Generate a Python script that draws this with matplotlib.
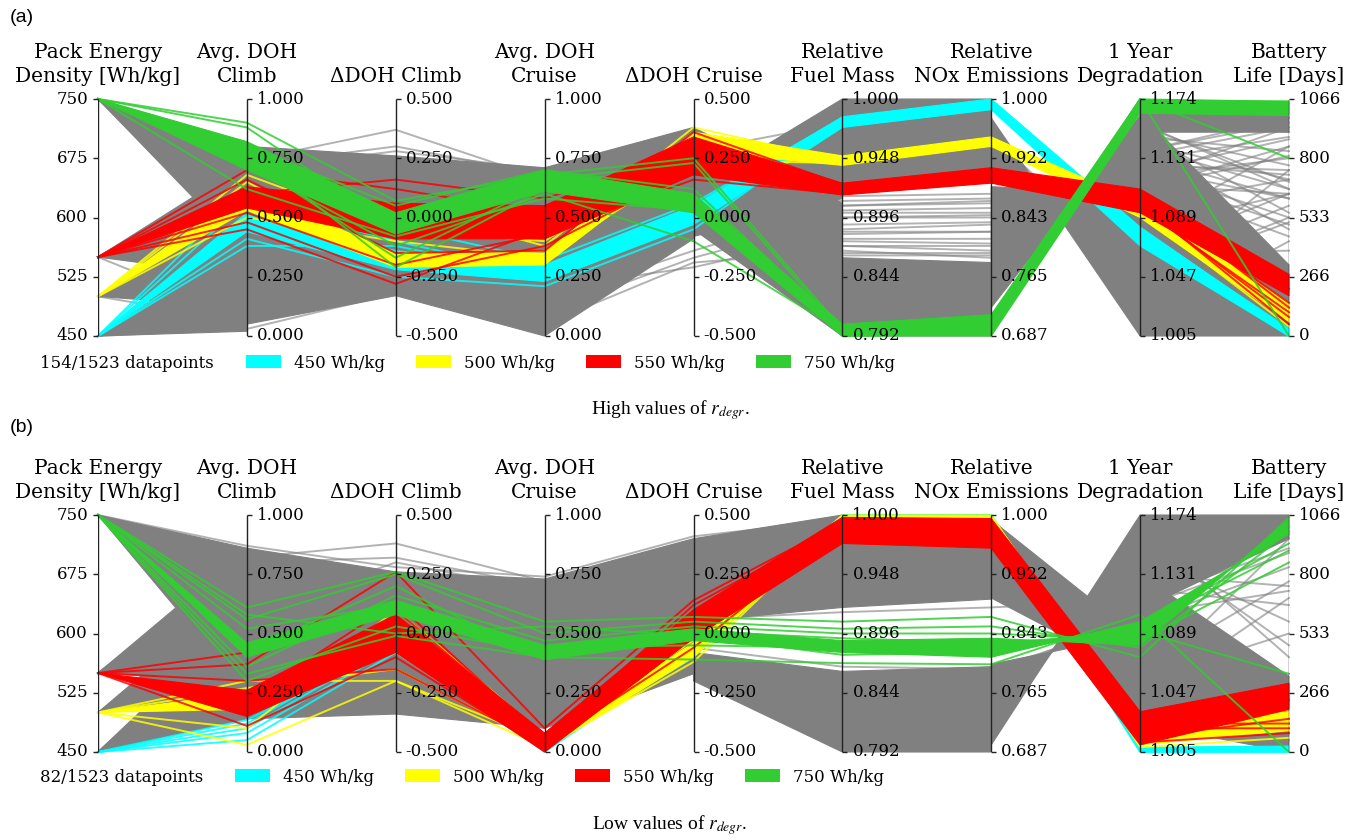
import numpy as np
import matplotlib
matplotlib.use('Agg')
import matplotlib.pyplot as plt
from matplotlib.patches import Patch

plt.rcParams['font.family'] = 'DejaVu Serif'
plt.rcParams['mathtext.fontset'] = 'stix'

N = np.nan
W, H = 1355, 840

# axes of the parallel plot
axis_names = ['Pack Energy\nDensity [Wh/kg]', 'Avg. DOH\nClimb', 'ΔDOH Climb',
              'Avg. DOH\nCruise', 'ΔDOH Cruise', 'Relative\nFuel Mass',
              'Relative\nNOx Emissions', '1 Year\nDegradation', 'Battery\nLife [Days]']
axis_ticks = [['450', '525', '600', '675', '750'],
              ['0.000', '0.250', '0.500', '0.750', '1.000'],
              ['-0.500', '-0.250', '0.000', '0.250', '0.500'],
              ['0.000', '0.250', '0.500', '0.750', '1.000'],
              ['-0.500', '-0.250', '0.000', '0.250', '0.500'],
              ['0.792', '0.844', '0.896', '0.948', '1.000'],
              ['0.687', '0.765', '0.843', '0.922', '1.000'],
              ['1.005', '1.047', '1.089', '1.131', '1.174'],
              ['0', '266', '533', '800', '1066']]
legend_labels = ['450 Wh/kg', '500 Wh/kg', '550 Wh/kg', '750 Wh/kg']
colors = ['#00ffff', '#ffff00', '#ff0000', '#32cd32']
grey = '#808080'
counts = ['154/1523 datapoints', '82/1523 datapoints']
captions = ['High values of $r_{degr}$.', 'Low values of $r_{degr}$.']

# all values below are scaled positions (0 = bottom tick, 1 = top tick) on each axis
# ---------------- panel (a): high r_degr ----------------
grey_bands_a = [
    ([1.000, 0.80, N, N, N, N, N, N, N], [1.000, 0.35, N, N, N, N, N, N, N]),
    ([0.333, 0.73, N, N, N, N, N, N, N], [0.333, 0.25, N, N, N, N, N, N, N]),
    ([0.167, 0.55, N, N, N, N, N, N, N], [0.167, 0.12, N, N, N, N, N, N, N]),
    ([0.000, 0.42, N, N, N, N, N, N, N], [0.000, 0.02, N, N, N, N, N, N, N]),
    ([N, 0.80, 0.76, 0.71, 0.88, N, N, N, N], [N, 0.05, 0.17, 0.00, 0.41, N, N, N, N]),
    ([N, N, N, N, 0.62, 1.00, N, N, N], [N, N, N, N, 0.42, 0.58, N, N, N]),
    ([N, N, N, N, 0.88, 0.56, N, N, N], [N, N, N, N, 0.45, 0.00, N, N, N]),
    ([N, N, N, N, N, 1.00, 1.00, N, N], [N, N, N, N, N, 0.60, 0.65, N, N]),
    ([N, N, N, N, N, 0.33, 0.31, N, N], [N, N, N, N, N, 0.00, 0.00, N, N]),
    ([N, N, N, N, N, N, 0.12, 0.93, N], [N, N, N, N, N, N, 0.63, 0.60, N]),
    ([N, N, N, N, N, N, 0.92, 0.00, N], [N, N, N, N, N, N, 0.65, 0.60, N]),
    ([N, N, N, N, N, N, N, 0.94, 0.30], [N, N, N, N, N, N, N, 0.00, 0.00]),
    ([N, N, N, N, N, N, N, 0.95, 0.93], [N, N, N, N, N, N, N, 0.86, 0.86]),
]
grey_lines_a = [
    [1.000, 0.74, 0.87, 0.66, 0.80, 0.45, 0.47, 0.71, 0.50],
    [0.333, 0.72, 0.80, 0.68, 0.84, 0.40, 0.39, 0.76, 0.88],
    [0.333, 0.70, 0.78, 0.70, 0.86, 0.52, 0.52, 0.67, 0.75],
    [0.000, 0.03, 0.18, 0.05, 0.31, 0.36, 0.33, 0.80, 0.62],
    [0.167, 0.06, 0.20, 0.10, 0.33, 0.50, 0.50, 0.69, 0.83],
    [0.000, 0.10, 0.22, 0.15, 0.36, 0.55, 0.56, 0.65, 0.42],
    [0.333, 0.08, 0.19, 0.20, 0.29, 0.43, 0.44, 0.73, 0.68],
    [1.000, 0.60, 0.45, 0.50, 0.70, 0.38, 0.36, 0.78, 0.92],
    [1.000, 0.65, 0.55, 0.45, 0.65, 0.47, 0.48, 0.71, 0.58],
    [0.333, 0.40, 0.35, 0.30, 0.60, 0.34, 0.34, 0.79, 0.45],
    [0.333, 0.30, 0.40, 0.40, 0.55, 0.57, 0.58, 0.62, 0.80],
    [0.167, 0.20, 0.30, 0.25, 0.50, 0.24, 0.22, 0.86, 0.72],
    [0.000, 0.15, 0.25, 0.35, 0.45, 0.20, 0.18, 0.89, 0.65],
    [1.000, 0.55, 0.50, 0.60, 0.75, 0.80, 0.80, 0.30, 0.55],
    [1.000, 0.45, 0.42, 0.55, 0.72, 0.85, 0.85, 0.25, 0.48],
    [1.000, 0.38, 0.60, 0.65, 0.78, 0.90, 0.90, 0.06, 0.40],
    [0.333, 0.50, 0.65, 0.50, 0.82, 0.75, 0.76, 0.35, 0.36],
    [1.000, 0.58, 0.70, 0.62, 0.85, 0.70, 0.72, 0.45, 0.60],
    [0.000, 0.20, 0.30, 0.35, 0.57, 0.15, 0.14, 0.92, 0.86],
    [0.333, 0.40, 0.45, 0.40, 0.59, 0.18, 0.17, 0.90, 0.62],
    [0.167, 0.30, 0.35, 0.25, 0.61, 0.21, 0.20, 0.88, 0.92],
    [1.000, 0.60, 0.60, 0.55, 0.63, 0.24, 0.23, 0.86, 0.52],
    [0.000, 0.10, 0.25, 0.20, 0.66, 0.27, 0.26, 0.84, 0.78],
    [0.333, 0.55, 0.50, 0.45, 0.68, 0.30, 0.29, 0.82, 0.66],
    [0.167, 0.45, 0.40, 0.35, 0.72, 0.35, 0.35, 0.78, 0.90],
    [1.000, 0.70, 0.65, 0.60, 0.74, 0.38, 0.38, 0.76, 0.58],
    [0.000, 0.25, 0.35, 0.30, 0.76, 0.41, 0.41, 0.74, 0.84],
    [0.333, 0.50, 0.55, 0.50, 0.79, 0.44, 0.44, 0.72, 0.70],
    [0.167, 0.35, 0.45, 0.40, 0.83, 0.50, 0.51, 0.68, 0.47],
    [1.000, 0.65, 0.70, 0.65, 0.86, 0.53, 0.54, 0.66, 0.88],
    [0.333, 0.60, 0.60, 0.55, 0.87, 0.55, 0.57, 0.64, 0.60],
    [0.000, 0.30, 0.40, 0.20, 0.43, 0.59, 0.60, 0.62, 0.76],
    [0.167, 0.40, 0.30, 0.25, 0.44, 0.63, 0.67, 0.55, 0.66],
    [0.333, 0.45, 0.55, 0.30, 0.48, 0.70, 0.72, 0.45, 0.80],
    [1.000, 0.75, 0.60, 0.65, 0.50, 0.74, 0.76, 0.35, 0.60],
    [0.000, 0.20, 0.30, 0.10, 0.52, 0.78, 0.81, 0.25, 0.50],
    [0.333, 0.55, 0.45, 0.40, 0.53, 0.80, 0.83, 0.20, 0.70],
]
cyan_band_a = ([0.0, 0.52, 0.36, 0.30, 0.55, 0.925, 1.00, 0.46, 0.025],
               [0.0, 0.44, 0.28, 0.23, 0.47, 0.880, 0.955, 0.38, 0.0])
cyan_lines_a = [
    [0.0, 0.62, 0.30, 0.28, 0.52, 0.91, 0.98, 0.44, 0.01],
    [0.0, 0.57, 0.40, 0.26, 0.50, 0.90, 0.97, 0.42, 0.02],
    [0.0, 0.38, 0.38, 0.25, 0.48, 0.89, 0.96, 0.40, 0.00],
    [0.0, 0.47, 0.46, 0.32, 0.56, 0.92, 0.99, 0.45, 0.03],
    [0.0, 0.41, 0.25, 0.21, 0.45, 0.90, 0.97, 0.39, 0.01],
]
yellow_band_a = ([0.167, 0.62, 0.35, 0.35, 0.86, 0.76, 0.84, 0.56, 0.14],
                 [0.167, 0.53, 0.29, 0.30, 0.78, 0.72, 0.80, 0.50, 0.06])
yellow_lines_a = [
    [0.167, 0.68, 0.45, 0.40, 0.82, 0.75, 0.83, 0.54, 0.10],
    [0.167, 0.50, 0.40, 0.33, 0.74, 0.73, 0.81, 0.52, 0.04],
    [0.167, 0.58, 0.55, 0.38, 0.88, 0.74, 0.82, 0.53, 0.18],
    [0.167, 0.65, 0.32, 0.36, 0.80, 0.75, 0.83, 0.55, 0.08],
]
red_band_a = ([0.333, 0.63, 0.56, 0.55, 0.84, 0.645, 0.71, 0.62, 0.26],
              [0.333, 0.54, 0.41, 0.41, 0.68, 0.595, 0.645, 0.52, 0.17])
red_lines_a = [
    [0.333, 0.70, 0.62, 0.52, 0.80, 0.63, 0.69, 0.60, 0.12],
    [0.333, 0.45, 0.22, 0.45, 0.75, 0.61, 0.66, 0.55, 0.08],
    [0.333, 0.48, 0.25, 0.38, 0.70, 0.62, 0.67, 0.56, 0.05],
    [0.333, 0.66, 0.35, 0.36, 0.86, 0.64, 0.70, 0.58, 0.14],
    [0.333, 0.60, 0.66, 0.58, 0.78, 0.60, 0.65, 0.53, 0.20],
    [0.333, 0.52, 0.30, 0.43, 0.66, 0.60, 0.66, 0.54, 0.10],
]
green_band_a = ([1.0, 0.82, 0.52, 0.70, 0.60, 0.05, 0.09, 1.00, 0.99],
                [1.0, 0.70, 0.43, 0.61, 0.52, 0.00, 0.00, 0.94, 0.93])
green_lines_a = [
    [1.0, 0.90, 0.57, 0.68, 0.75, 0.03, 0.05, 0.98, 0.96],
    [1.0, 0.88, 0.45, 0.66, 0.73, 0.02, 0.04, 0.99, 0.97],
    [1.0, 0.78, 0.29, 0.62, 0.55, 0.01, 0.02, 0.97, 0.95],
    [1.0, 0.74, 0.33, 0.64, 0.58, 0.02, 0.03, 0.98, 0.98],
    [1.0, 0.76, 0.50, 0.66, 0.56, 0.00, 0.01, 1.00, 0.75],
    [1.0, 0.72, 0.38, 0.60, 0.40, 0.02, 0.06, 1.00, 0.00],
    [1.0, 0.62, 0.42, 0.58, 0.53, 0.01, 0.02, 0.96, 0.94],
    [1.0, 0.80, 0.55, 0.70, 0.62, 0.03, 0.06, 0.99, 0.99],
]

# ---------------- panel (b): low r_degr ----------------
grey_bands_b = [
    ([1.000, 0.86, N, N, N, N, N, N, N], [1.000, 0.25, N, N, N, N, N, N, N]),
    ([0.333, 0.86, N, N, N, N, N, N, N], [0.333, 0.30, N, N, N, N, N, N, N]),
    ([0.167, 0.70, N, N, N, N, N, N, N], [0.167, 0.20, N, N, N, N, N, N, N]),
    ([0.000, 0.60, N, N, N, N, N, N, N], [0.000, 0.14, N, N, N, N, N, N, N]),
    ([N, 0.86, 0.76, 0.73, 0.90, N, N, N, N], [N, 0.14, 0.16, 0.10, 0.33, N, N, N, N]),
    ([N, N, N, N, 0.90, 1.00, N, N, N], [N, N, N, N, 0.55, 0.61, N, N, N]),
    ([N, N, N, N, 0.42, 0.34, N, N, N], [N, N, N, N, 0.30, 0.00, N, N, N]),
    ([N, N, N, N, N, 1.00, 1.000, N, N], [N, N, N, N, N, 0.61, 0.645, N, N]),
    ([N, N, N, N, N, 0.34, 0.36, N, N], [N, N, N, N, N, 0.00, 0.00, N, N]),
    ([N, N, N, N, N, N, 0.03, 1.00, N], [N, N, N, N, N, N, 0.37, 0.50, N]),
    ([N, N, N, N, N, N, 0.98, 0.48, N], [N, N, N, N, N, N, 0.65, 0.32, N]),
    ([N, N, N, N, N, N, 0.90, 0.15, N], [N, N, N, N, N, N, 0.66, 0.45, N]),
    ([N, N, N, N, N, N, N, 1.00, 1.00], [N, N, N, N, N, N, N, 0.60, 0.90]),
    ([N, N, N, N, N, N, N, 0.75, 0.32], [N, N, N, N, N, N, N, 0.12, 0.00]),
]
grey_lines_b = [
    [0.333, 0.82, 0.88, 0.72, 0.86, 0.95, 0.96, 0.20, 0.05],
    [0.333, 0.80, 0.82, 0.70, 0.88, 0.90, 0.92, 0.25, 0.10],
    [0.000, 0.58, 0.80, 0.68, 0.84, 0.85, 0.88, 0.30, 0.02],
    [1.000, 0.87, 0.78, 0.74, 0.91, 0.98, 0.98, 0.40, 0.15],
    [0.167, 0.60, 0.55, 0.58, 0.56, 0.59, 0.61, 0.64, 0.86],
    [0.333, 0.65, 0.60, 0.50, 0.44, 0.36, 0.35, 0.55, 0.78],
    [0.000, 0.55, 0.45, 0.40, 0.40, 0.30, 0.30, 0.61, 0.84],
    [1.000, 0.70, 0.50, 0.45, 0.38, 0.25, 0.24, 0.69, 0.62],
    [0.333, 0.75, 0.65, 0.60, 0.36, 0.20, 0.20, 0.75, 0.70],
    [1.000, 0.78, 0.70, 0.62, 0.34, 0.15, 0.14, 0.84, 0.55],
    [0.167, 0.50, 0.35, 0.30, 0.35, 0.10, 0.10, 0.90, 0.45],
    [0.000, 0.40, 0.30, 0.35, 0.33, 0.05, 0.06, 0.95, 0.40],
    [1.000, 0.45, 0.40, 0.55, 0.60, 0.70, 0.72, 0.30, 0.50],
    [0.333, 0.35, 0.25, 0.20, 0.70, 0.80, 0.82, 0.22, 0.65],
    [0.167, 0.30, 0.20, 0.25, 0.75, 0.75, 0.78, 0.28, 0.90],
    [1.000, 0.66, 0.72, 0.66, 0.80, 0.66, 0.70, 0.35, 0.72],
    [0.333, 0.62, 0.58, 0.52, 0.37, 0.28, 0.27, 0.65, 0.92],
    [1.000, 0.72, 0.62, 0.56, 0.41, 0.32, 0.33, 0.58, 0.68],
]
cyan_band_b = ([N, N, N, N, N, N, N, 0.02, 0.025], [N, N, N, N, N, N, N, 0.00, 0.00])
cyan_lines_b = [
    [0.0, 0.05, 0.42, 0.01, 0.41, 0.995, 0.995, 0.005, 0.010],
    [0.0, 0.08, 0.44, 0.02, 0.42, 1.000, 1.000, 0.010, 0.020],
    [0.0, 0.10, 0.46, 0.00, 0.43, 0.990, 0.990, 0.000, 0.000],
    [0.0, 0.12, 0.47, 0.03, 0.44, 1.000, 0.995, 0.010, 0.015],
    [0.0, 0.135, 0.45, 0.02, 0.40, 0.995, 1.000, 0.005, 0.005],
]
yellow_band_b = ([0.167, 0.25, 0.55, 0.06, 0.46, 1.00, 1.00, 0.09, 0.17],
                 [0.167, 0.18, 0.42, 0.01, 0.40, 0.98, 0.96, 0.03, 0.09])
yellow_lines_b = [
    [0.167, 0.03, 0.30, 0.02, 0.38, 0.990, 0.980, 0.02, 0.06],
    [0.167, 0.30, 0.30, 0.05, 0.45, 0.985, 0.970, 0.05, 0.12],
    [0.167, 0.10, 0.60, 0.07, 0.47, 0.995, 0.990, 0.08, 0.15],
    [0.167, 0.27, 0.35, 0.03, 0.42, 0.975, 0.965, 0.06, 0.18],
]
red_band_b = ([0.333, 0.26, 0.58, 0.08, 0.60, 0.99, 0.985, 0.17, 0.29],
              [0.333, 0.15, 0.42, 0.00, 0.48, 0.88, 0.860, 0.03, 0.18])
red_lines_b = [
    [0.333, 0.37, 0.76, 0.10, 0.64, 0.97, 0.95, 0.10, 0.10],
    [0.333, 0.42, 0.60, 0.06, 0.55, 0.92, 0.90, 0.06, 0.14],
    [0.333, 0.30, 0.35, 0.03, 0.44, 0.95, 0.93, 0.12, 0.12],
    [0.333, 0.11, 0.40, 0.01, 0.50, 0.90, 0.88, 0.04, 0.08],
    [0.333, 0.22, 0.63, 0.05, 0.62, 0.96, 0.94, 0.14, 0.22],
]
green_band_b = ([1.0, 0.46, 0.64, 0.45, 0.52, 0.47, 0.48, 0.45, 0.98],
                [1.0, 0.40, 0.58, 0.39, 0.47, 0.42, 0.40, 0.55, 0.92])
green_lines_b = [
    [1.0, 0.61, 0.76, 0.55, 0.57, 0.55, 0.57, 0.40, 0.99],
    [1.0, 0.56, 0.75, 0.50, 0.55, 0.52, 0.53, 0.44, 0.93],
    [1.0, 0.30, 0.53, 0.42, 0.50, 0.45, 0.45, 0.51, 0.33],
    [1.0, 0.33, 0.49, 0.40, 0.39, 0.375, 0.37, 0.58, 0.00],
    [1.0, 0.52, 0.62, 0.44, 0.45, 0.44, 0.43, 0.53, 0.85],
    [1.0, 0.36, 0.66, 0.47, 0.53, 0.50, 0.50, 0.47, 0.80],
    [1.0, 0.58, 0.50, 0.53, 0.49, 0.41, 0.42, 0.535, 0.88],
    [1.0, 0.43, 0.70, 0.39, 0.51, 0.48, 0.46, 0.50, 0.95],
]


def draw_band(ax, band, color, z):
    a, b = np.array(band[0]), np.array(band[1])
    for i in range(len(a) - 1):
        if np.isnan([a[i], a[i + 1], b[i], b[i + 1]]).any():
            continue
        ax.fill([i, i + 1, i + 1, i], [a[i], a[i + 1], b[i + 1], b[i]],
                color=color, ec=color, lw=0.8, zorder=z, clip_on=False)


def draw_lines(ax, lines, color, z, alpha):
    for ln in lines:
        ax.plot(range(len(ln)), ln, color=color, lw=1.4, alpha=alpha,
                zorder=z, clip_on=False)


fig = plt.figure(figsize=(W / 100, H / 100), dpi=100)

panels = [
    dict(bottom=336, letter='(a)', letter_y=17, count_y=363, leg_x=246, cap_y=410,
         grey_bands=grey_bands_a, grey_lines=grey_lines_a,
         bands=[cyan_band_a, yellow_band_a, red_band_a, green_band_a],
         lines=[cyan_lines_a, yellow_lines_a, red_lines_a, green_lines_a]),
    dict(bottom=752, letter='(b)', letter_y=428, count_y=777, leg_x=235, cap_y=825,
         grey_bands=grey_bands_b, grey_lines=grey_lines_b,
         bands=[cyan_band_b, yellow_band_b, red_band_b, green_band_b],
         lines=[cyan_lines_b, yellow_lines_b, red_lines_b, green_lines_b]),
]

for k, p in enumerate(panels):
    ax = fig.add_axes([98 / W, (H - p['bottom']) / H, 1191 / W, 237 / H])
    ax.set_xlim(0, 8)
    ax.set_ylim(0, 1)
    ax.axis('off')

    for band in p['grey_bands']:
        draw_band(ax, band, grey, 1)
    draw_lines(ax, p['grey_lines'], grey, 1.5, 0.6)
    for j in range(4):
        draw_band(ax, p['bands'][j], colors[j], 2 + j)
        draw_lines(ax, p['lines'][j], colors[j], 2 + j, 0.85)

    # vertical axes, ticks and labels
    ax.vlines(range(9), 0, 1, color='#222222', lw=1, zorder=10)
    fr = np.linspace(0, 1, 5)
    for i in range(9):
        left = i == 0
        ax.plot([i] * 5, fr, ls='', marker=0 if left else 1, ms=3.5, mew=1,
                color='#222222', zorder=10, clip_on=False)
        for f, t in zip(fr, axis_ticks[i]):
            ax.annotate(t, xy=(i, f), xytext=(-10 if left else 10, 0),
                        textcoords='offset pixels', ha='right' if left else 'left',
                        va='center', fontsize=12, zorder=12)
        ax.annotate(axis_names[i], xy=(i, 1), xytext=(0, 13), textcoords='offset pixels',
                    ha='center', va='bottom', fontsize=14.5, linespacing=1.32)

    fig.text(10 / W, 1 - p['letter_y'] / H, p['letter'], family='Liberation Sans',
             fontsize=14, va='center')
    fig.text(40 / W, 1 - p['count_y'] / H, counts[k], fontsize=12, va='center')
    handles = [Patch(facecolor=c, edgecolor='none') for c in colors]
    ax.legend(handles, legend_labels, loc='center left',
              bbox_to_anchor=(p['leg_x'] / W, 1 - p['count_y'] / H),
              bbox_transform=fig.transFigure, ncol=4, frameon=False, fontsize=12,
              handlelength=2.07, handleheight=0.85, handletextpad=0.8,
              columnspacing=1.88, borderpad=0, borderaxespad=0)
    fig.text(670 / W, 1 - p['cap_y'] / H, captions[k], family='Liberation Serif',
             fontsize=14, ha='center', va='center')

fig.savefig('out.png', dpi=100)
